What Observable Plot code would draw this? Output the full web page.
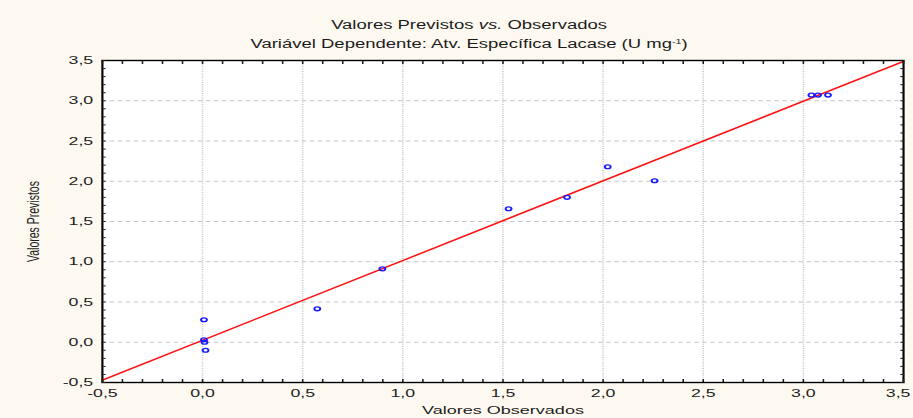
<!DOCTYPE html>
<html>
<head>
<meta charset="utf-8">
<script src="https://cdn.jsdelivr.net/npm/d3@7"></script>
<script src="https://cdn.jsdelivr.net/npm/@observablehq/plot@0.6"></script>
<style>
  html, body { margin: 0; padding: 0; background: #fdf9f0; }
  #chart { width: 913px; height: 418px; overflow: hidden; }
  /* the chart is laid out narrow and widened horizontally, as in the exported graph */
  #chart svg { transform: scaleX(1.54); transform-origin: 0 0; max-width: none; }
</style>
</head>
<body>
<div id="chart"></div>
<script>
// Observed vs. predicted laccase specific activity
const observed  = [0.007, 0.007, 0.010, 0.015, 0.573, 0.898, 1.528, 1.820, 2.023, 2.257, 3.040, 3.073, 3.123];
const predicted = [0.280, 0.030, 0.000, -0.100, 0.415, 0.912, 1.658, 1.800, 2.180, 2.006, 3.070, 3.070, 3.070];

// fitted line, end points across the axis range
const fitObserved  = [-0.5, 3.5];
const fitPredicted = [-0.47, 3.49];

const xTickValues = [-0.5, 0.0, 0.5, 1.0, 1.5, 2.0, 2.5, 3.0, 3.5];
const yTickValues = [-0.5, 0.0, 0.5, 1.0, 1.5, 2.0, 2.5, 3.0, 3.5];
const gridValues  = [0.0, 0.5, 1.0, 1.5, 2.0, 2.5, 3.0];

const titleParts = ["Valores Previstos ", "vs.", " Observados"];
const subtitleParts = ["Variável Dependente: Atv. Específica Lacase (U mg", "-1", ")"];
const xLabel = "Valores Observados";
const yLabel = "Valores Previstos";

const title = titleParts.join("");
const subtitle = subtitleParts.join("");
const points = observed.map((o, i) => ({observed: o, predicted: predicted[i]}));
const fit = fitObserved.map((o, i) => ({observed: o, predicted: fitPredicted[i]}));
const minorTicks = d3.range(-5, 36).map(i => i / 10);
const fmt = d => d.toFixed(1).replace(".", ",");
const xInner = xTickValues.slice(0, -1);
const xLast = xTickValues.slice(-1);

const ink = "#1c1c1c";
const tickText = {anchor: "bottom", tickSize: 0, tickPadding: 6, tickFormat: fmt, label: null, fontSize: 11.5};

const chart = Plot.plot({
  width: 593,
  height: 418,
  marginLeft: 66,
  marginRight: 6.8,
  marginTop: 60,
  marginBottom: 36,
  style: {background: "transparent", fontFamily: "'Liberation Sans', Arial, sans-serif", color: ink},
  x: {domain: [-0.5, 3.5]},
  y: {domain: [-0.5, 3.5]},
  marks: [
    Plot.frame({fill: "white", stroke: "none"}),
    Plot.ruleY(gridValues, {stroke: "#c6c6c6", strokeDasharray: "3,2.2"}),
    Plot.ruleX(gridValues, {stroke: "#c6c6c6", strokeDasharray: "1,1.2"}),
    Plot.line(fit, {x: "observed", y: "predicted", stroke: "#ff1010", strokeWidth: 1.4}),
    Plot.dot(points, {x: "observed", y: "predicted", r: 1.9, stroke: "#1a1aff", strokeWidth: 1.3, fill: "none"}),
    Plot.frame({stroke: "#000", strokeWidth: 1.4}),
    // inward minor ticks on all four sides
    Plot.axisX({anchor: "bottom", ticks: minorTicks, tickSize: -3, fill: "none", label: null}),
    Plot.axisX({anchor: "top", ticks: minorTicks, tickSize: -3, fill: "none", label: null}),
    Plot.axisY({anchor: "left", ticks: minorTicks, tickSize: -2.6, fill: "none", label: null}),
    Plot.axisY({anchor: "right", ticks: minorTicks, tickSize: -2.6, fill: "none", label: null}),
    // tick labels (the last x label is nudged in from the page edge)
    Plot.axisX({...tickText, ticks: xInner}),
    Plot.axisX({...tickText, ticks: xLast, dx: -3.5}),
    Plot.axisY({anchor: "left", ticks: yTickValues, tickSize: 0, tickPadding: 6, tickFormat: fmt, label: null, fontSize: 11.5}),
    // titles
    Plot.text([title], {frameAnchor: "top", textAnchor: "middle", lineAnchor: "bottom", dx: -22, dy: -32, fontSize: 12}),
    Plot.text([subtitle], {frameAnchor: "top", textAnchor: "middle", lineAnchor: "bottom", dx: -22, dy: -13, fontSize: 12}),
    Plot.text([xLabel], {frameAnchor: "bottom", textAnchor: "middle", lineAnchor: "bottom", dy: 31, fontSize: 11.7}),
    Plot.text([yLabel], {frameAnchor: "left", textAnchor: "middle", lineAnchor: "middle", rotate: -90, dx: -44.6, fontSize: 10.5})
  ]
});

// rich text: italic "vs." and the superscript unit exponent
d3.select(chart).selectAll("text").each(function() {
  const t = d3.select(this);
  if (this.textContent === title) {
    t.text(null);
    t.append("tspan").text(titleParts[0]);
    t.append("tspan").attr("font-style", "italic").text(titleParts[1]);
    t.append("tspan").text(titleParts[2]);
  } else if (this.textContent === subtitle) {
    t.text(null);
    t.append("tspan").text(subtitleParts[0]);
    t.append("tspan").attr("dy", -4).attr("font-size", 7).text(subtitleParts[1]);
    t.append("tspan").attr("dy", 4).text(subtitleParts[2]);
  }
});

document.getElementById("chart").append(chart);
</script>
</body>
</html>
